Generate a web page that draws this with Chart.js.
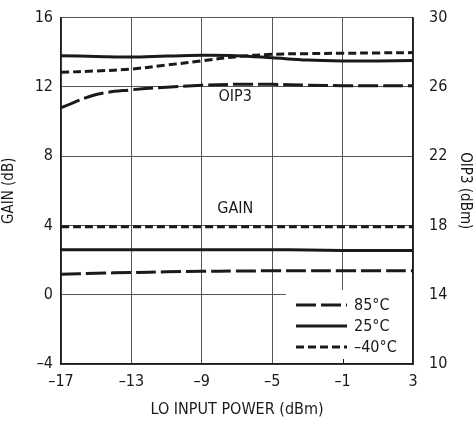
<!DOCTYPE html>
<html>
<head>
<meta charset="utf-8">
<script src="https://cdn.jsdelivr.net/npm/chart.js@4.4.1/dist/chart.umd.min.js"></script>
<style>
  html, body { margin: 0; padding: 0; background: #fff; }
  #wrap { width: 474px; height: 423px; }
</style>
</head>
<body>
<div id="wrap"><canvas id="lineChart" width="474" height="423"></canvas></div>
<script>
// LO input power (dBm)
var loPower = [-17, -15, -13, -11, -9, -7, -5, -3, -1, 1, 3];

// OIP3 (dBm), right axis
var oip3_85 = [24.8, 25.56, 25.83, 25.98, 26.1, 26.15, 26.15, 26.1, 26.07, 26.07, 26.07];
var oip3_25 = [27.8, 27.76, 27.72, 27.78, 27.82, 27.8, 27.68, 27.55, 27.5, 27.5, 27.52];
var oip3_m40 = [26.84, 26.92, 27.03, 27.26, 27.5, 27.75, 27.88, 27.92, 27.94, 27.96, 27.98];

// conversion gain (dB), left axis
var gain_85 = [1.18, 1.24, 1.28, 1.32, 1.35, 1.37, 1.38, 1.38, 1.38, 1.38, 1.38];
var gain_25 = [2.6, 2.6, 2.6, 2.6, 2.6, 2.6, 2.6, 2.58, 2.56, 2.55, 2.55];
var gain_m40 = [3.93, 3.93, 3.93, 3.93, 3.93, 3.93, 3.93, 3.93, 3.93, 3.93, 3.93];

var xTicks = [-17, -13, -9, -5, -1, 3];
var gainTicks = [-4, 0, 4, 8, 12, 16];
var oipTicks = [10, 14, 18, 22, 26, 30];

var tempLabels = ['85°C', '25°C', '–40°C'];
var longDash = [20, 5];
var shortDash = [8, 4];

var FONT = "'Liberation Sans Narrow', 'DejaVu Sans Condensed', 'Liberation Sans', sans-serif";
var INK = '#1a1a1a';

function pts(ys) {
  return loPower.map(function (x, i) { return { x: x, y: ys[i] }; });
}
function minus(v) {
  return String(v).replace('-', '–');
}
function series(label, ys, dash, axis) {
  return {
    label: label,
    data: pts(ys),
    yAxisID: axis,
    borderColor: INK,
    borderWidth: 3,
    borderDash: dash,
    pointRadius: 0,
    tension: 0.35,
    fill: false
  };
}

// white legend box in the lower right corner + curve labels
var extras = {
  id: 'extras',
  afterDraw: function (chart) {
    var c = chart.ctx;
    var xs = chart.scales.x;
    var a = chart.chartArea;
    c.save();
    c.fillStyle = '#fff';
    c.fillRect(286, 290, a.right - 287, a.bottom - 291);
    // small tick at x = -1
    c.strokeStyle = INK;
    c.lineWidth = 1;
    c.beginPath();
    var tx = Math.round(xs.getPixelForValue(-1)) + 0.5;
    c.moveTo(tx, a.bottom);
    c.lineTo(tx, a.bottom - 5);
    c.stroke();

    var dashes = [longDash, [], shortDash];
    c.font = '16px ' + FONT;
    c.textBaseline = 'middle';
    c.fillStyle = INK;
    for (var i = 0; i < 3; i++) {
      var y = 305 + i * 21;
      c.setLineDash(dashes[i]);
      c.lineWidth = 3;
      c.beginPath();
      c.moveTo(296, y);
      c.lineTo(347, y);
      c.stroke();
      c.fillText(tempLabels[i], 354, y + 1);
    }
    c.setLineDash([]);
    c.textAlign = 'center';
    c.fillText('OIP3', xs.getPixelForValue(-7.1), 97);
    c.fillText('GAIN', xs.getPixelForValue(-7.1), 209);
    c.restore();
  }
};

var ctx = document.getElementById('lineChart').getContext('2d');
var myChart = new Chart(ctx, {
  type: 'line',
  data: {
    datasets: [
      series('OIP3 85°C', oip3_85, longDash, 'y2'),
      series('OIP3 25°C', oip3_25, [], 'y2'),
      series('OIP3 -40°C', oip3_m40, shortDash, 'y2'),
      series('GAIN 85°C', gain_85, longDash, 'y'),
      series('GAIN 25°C', gain_25, [], 'y'),
      series('GAIN -40°C', gain_m40, shortDash, 'y')
    ]
  },
  options: {
    responsive: false,
    animation: false,
    layout: { padding: { top: 13, left: 0, right: 0, bottom: 0 } },
    plugins: { legend: { display: false }, tooltip: { enabled: false } },
    scales: {
      x: {
        type: 'linear',
        min: -17, max: 3,
        afterBuildTicks: function (s) { s.ticks = xTicks.map(function (v) { return { value: v }; }); },
        afterFit: function (s) { s.height = 59; },
        grid: { color: '#555', lineWidth: 1, drawTicks: false },
        border: { color: INK, width: 1.5 },
        ticks: {
          color: INK, padding: 8, maxRotation: 0,
          font: { family: FONT, size: 16 },
          callback: function (v) { return minus(v); }
        },
        title: {
          display: true, text: 'LO INPUT POWER (dBm)', color: INK,
          font: { family: FONT, size: 16 }, padding: { top: 4 }
        }
      },
      y: {
        position: 'left',
        min: -4, max: 16,
        afterBuildTicks: function (s) { s.ticks = gainTicks.map(function (v) { return { value: v }; }); },
        afterFit: function (s) { s.width = 61; },
        grid: { color: '#555', lineWidth: 1, drawTicks: false },
        border: { color: INK, width: 1.5 },
        ticks: {
          color: INK, padding: 8,
          font: { family: FONT, size: 16 },
          callback: function (v) { return minus(v); }
        },
        title: {
          display: true, text: 'GAIN (dB)', color: INK,
          font: { family: FONT, size: 15 }, padding: 0
        }
      },
      y2: {
        position: 'right',
        min: 10, max: 30,
        afterBuildTicks: function (s) { s.ticks = oipTicks.map(function (v) { return { value: v }; }); },
        afterFit: function (s) { s.width = 61; },
        grid: { display: false },
        border: { color: INK, width: 1.5 },
        ticks: {
          color: INK, padding: 8,
          font: { family: FONT, size: 16 }
        },
        title: {
          display: true, text: 'OIP3 (dBm)', color: INK,
          font: { family: FONT, size: 15 }, padding: 0
        }
      }
    }
  },
  plugins: [extras]
});
</script>
</body>
</html>
